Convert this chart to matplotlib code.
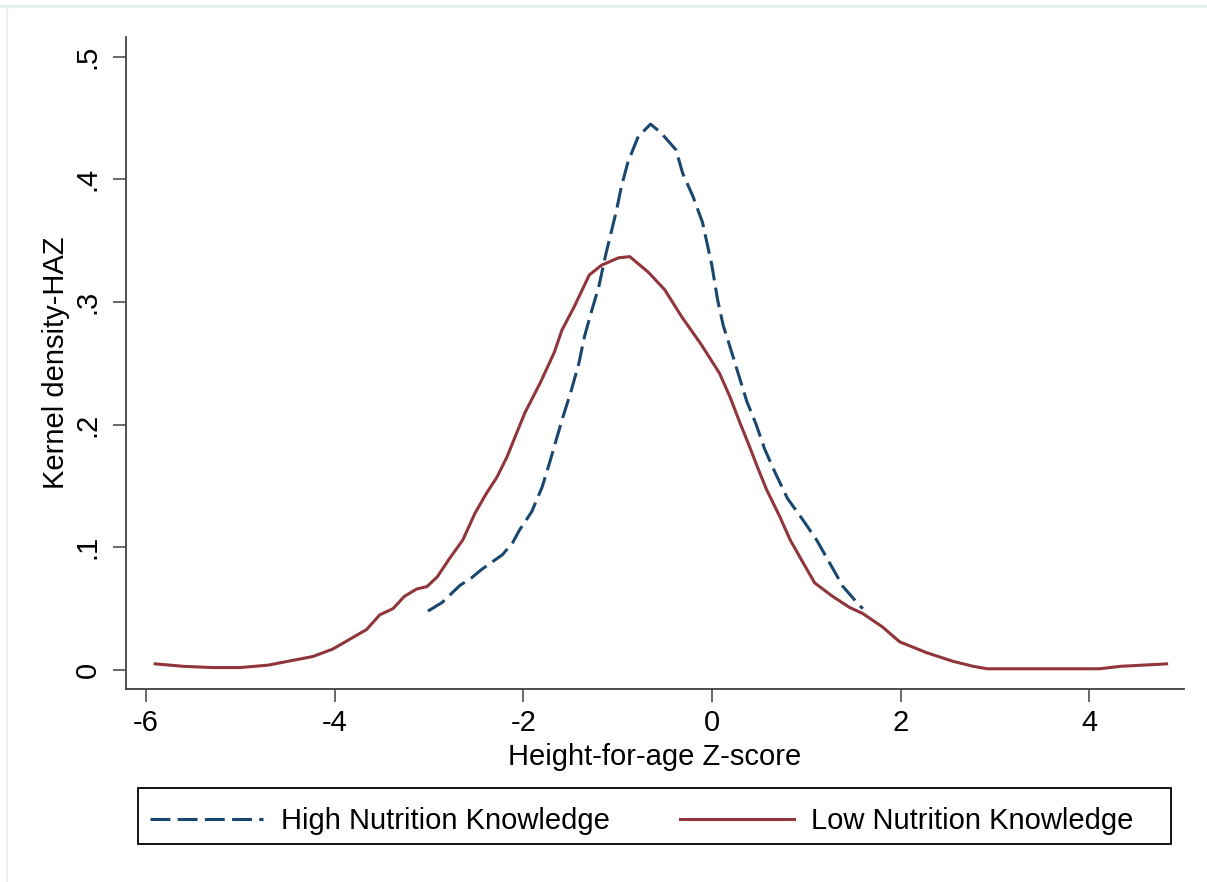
import matplotlib.pyplot as plt
from matplotlib.lines import Line2D
from matplotlib.patches import Rectangle

plt.rcParams['font.family'] = ['Liberation Sans', 'DejaVu Sans']

# Low Nutrition Knowledge (solid, maroon)
low_x = [-5.9, -5.6, -5.3, -5.0, -4.7, -4.5, -4.23, -4.02, -3.84, -3.66, -3.52, -3.38,
         -3.26, -3.13, -3.02, -2.91, -2.78, -2.64, -2.51, -2.39, -2.28, -2.17, -2.06,
         -1.98, -1.82, -1.67, -1.59, -1.46, -1.30, -1.17, -0.99, -0.87, -0.67, -0.50,
         -0.32, -0.11, 0.08, 0.19, 0.30, 0.40, 0.48, 0.58, 0.72, 0.83, 0.97, 1.09,
         1.28, 1.46, 1.60, 1.81, 1.99, 2.28, 2.56, 2.77, 2.92, 3.3, 3.7, 4.11, 4.33, 4.82]
low_y = [0.005, 0.003, 0.002, 0.002, 0.004, 0.007, 0.011, 0.017, 0.025, 0.033, 0.045, 0.050,
         0.060, 0.066, 0.068, 0.076, 0.091, 0.106, 0.128, 0.144, 0.157, 0.174, 0.195,
         0.210, 0.234, 0.259, 0.277, 0.296, 0.322, 0.330, 0.336, 0.337, 0.324, 0.310,
         0.288, 0.265, 0.242, 0.223, 0.201, 0.182, 0.166, 0.147, 0.125, 0.106, 0.087, 0.071,
         0.060, 0.051, 0.046, 0.035, 0.023, 0.014, 0.007, 0.003, 0.001, 0.001, 0.001, 0.001, 0.003, 0.005]

# High Nutrition Knowledge (dashed, navy)
high_x = [-3.01, -2.86, -2.67, -2.55, -2.44, -2.22, -2.11, -2.04, -1.91, -1.80, -1.72, -1.66,
          -1.58, -1.49, -1.41, -1.35, -1.27, -1.20, -1.13, -1.07, -1.01, -0.96, -0.89, -0.78,
          -0.65, -0.54, -0.38, -0.31, -0.20, -0.10, 0.0, 0.06, 0.12, 0.21, 0.29, 0.37, 0.47,
          0.56, 0.67, 0.80, 0.95, 1.11, 1.25, 1.39, 1.56, 1.6]
high_y = [0.048, 0.055, 0.069, 0.075, 0.082, 0.094, 0.104, 0.114, 0.129, 0.149, 0.169, 0.185,
          0.206, 0.228, 0.250, 0.272, 0.294, 0.312, 0.337, 0.356, 0.375, 0.394, 0.414, 0.435,
          0.445, 0.438, 0.424, 0.405, 0.386, 0.365, 0.330, 0.302, 0.281, 0.259, 0.239, 0.219, 0.200,
          0.180, 0.161, 0.140, 0.124, 0.106, 0.087, 0.068, 0.053, 0.050]

xticks = [-6, -4, -2, 0, 2, 4]
yticks = [0, 0.1, 0.2, 0.3, 0.4, 0.5]
ytick_labels = ['0', '.1', '.2', '.3', '.4', '.5']

fs = 21
navy = '#1a476f'
maroon = '#90353b'

fig = plt.figure(figsize=(12.07, 8.82), dpi=100)
ax = fig.add_axes([0.1044, 0.2188, 0.8766, 0.7392])

h_line, = ax.plot(high_x, high_y, color=navy, lw=2.2, linestyle=(0, (6.5, 2.4)),
                  label='High Nutrition Knowledge')
l_line, = ax.plot(low_x, low_y, color=maroon, lw=2.2, label='Low Nutrition Knowledge')

ax.set_xlim(-6.21, 5.005)
ax.set_ylim(-0.0155, 0.516)
ax.set_xticks(xticks)
ax.set_xticklabels([str(t) for t in xticks])
ax.set_yticks(yticks)
ax.set_yticklabels(ytick_labels, rotation=90, va='center')

for s in ['top', 'right']:
    ax.spines[s].set_visible(False)
for s in ['left', 'bottom']:
    ax.spines[s].set_color('#404040')
    ax.spines[s].set_linewidth(1.3)

ax.tick_params(axis='both', length=9.4, width=1.1, color='#404040', labelsize=fs)
ax.tick_params(axis='x', pad=5)
ax.tick_params(axis='y', pad=8)

ax.set_xlabel('Height-for-age Z-score', fontsize=fs, labelpad=4)
ax.set_ylabel('Kernel density-HAZ', fontsize=fs, labelpad=3)

# legend box drawn separately so its size matches the original
fig.add_artist(Rectangle((0.1143, 0.0431), 0.8558, 0.0635, transform=fig.transFigure,
                         fill=False, edgecolor='black', lw=1.3))
fig.legend(handles=[h_line, l_line], loc='center left',
           bbox_to_anchor=(0.1143, 0.0693), ncol=2, fontsize=fs, frameon=False,
           handlelength=3.9, handletextpad=0.6, columnspacing=2.4,
           borderaxespad=0, borderpad=0.4)

# faint outer frame of the original screenshot
fig.add_artist(Line2D([0, 1], [0.9932, 0.9932], transform=fig.transFigure,
                      color='#e8f0f4', lw=2.5))
fig.add_artist(Line2D([0.0058, 0.0058], [0, 0.9932], transform=fig.transFigure,
                      color='#e8f0f4', lw=1.5))

fig.savefig('out.png', dpi=100)
